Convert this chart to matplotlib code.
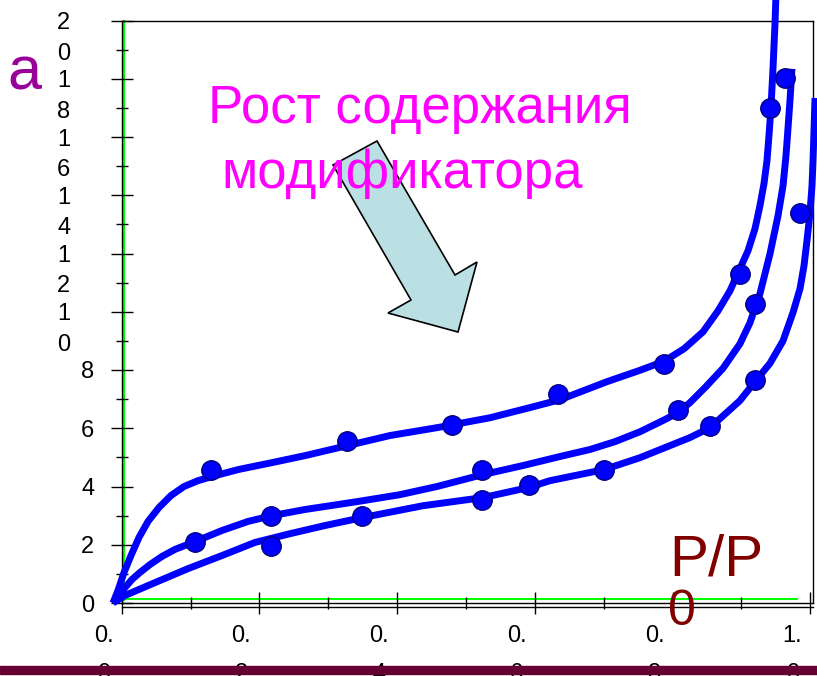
import matplotlib.pyplot as plt
import matplotlib.patches as mpatches
import numpy as np

plt.rcParams['font.family'] = ['Liberation Sans', 'DejaVu Sans']

# measured points (P/P0, adsorption) for the three samples
top_x = [0.130, 0.327, 0.480, 0.634, 0.788, 0.898, 0.942]
top_y = [4.55, 5.57, 6.12, 7.18, 8.21, 11.29, 16.99]
mid_x = [0.1065, 0.217, 0.524, 0.808, 0.920, 0.963]
mid_y = [2.11, 3.00, 4.58, 6.64, 10.26, 18.04]
low_x = [0.217, 0.349, 0.524, 0.591, 0.700, 0.854, 0.920, 0.985]
low_y = [1.97, 3.00, 3.54, 4.05, 4.55, 6.09, 7.66, 13.39]

# isotherm curves
top_curve_x = [-0.0126, -0.0054, 0.0034, 0.0135, 0.0251, 0.0382, 0.0542, 0.0716,
               0.0905, 0.1108, 0.1355, 0.1689, 0.2183, 0.2662, 0.3272, 0.3897,
               0.4580, 0.5349, 0.5930, 0.6366, 0.7049, 0.7528, 0.7877, 0.8168,
               0.8443, 0.8661, 0.8835, 0.8980, 0.9096, 0.9198, 0.9270, 0.9328,
               0.9372, 0.9401, 0.9430, 0.9460, 0.9489, 0.9503]
top_curve_y = [0.0, 0.43, 1.05, 1.63, 2.25, 2.80, 3.28, 3.69,
               4.00, 4.20, 4.37, 4.58, 4.82, 5.06, 5.40, 5.75,
               6.02, 6.36, 6.71, 6.98, 7.60, 7.99, 8.30, 8.73,
               9.31, 10.03, 10.72, 11.48, 12.09, 12.85, 13.64, 14.39,
               15.18, 16.04, 17.00, 18.37, 19.91, 20.88]
mid_curve_x = [-0.0126, -0.0054, 0.0048, 0.0150, 0.0266, 0.0411, 0.0586, 0.0774,
               0.1065, 0.1457, 0.1834, 0.2183, 0.2662, 0.3417, 0.4042, 0.4580,
               0.5248, 0.5829, 0.6366, 0.6801, 0.7165, 0.7528, 0.7891, 0.8080,
               0.8254, 0.8486, 0.8734, 0.8980, 0.9125, 0.9270, 0.9416, 0.9532,
               0.9605, 0.9648, 0.9677, 0.9706, 0.9735]
mid_curve_y = [0.0, 0.22, 0.53, 0.81, 1.05, 1.32, 1.60, 1.84,
               2.11, 2.49, 2.80, 3.00, 3.21, 3.48, 3.72, 4.00,
               4.41, 4.72, 5.03, 5.27, 5.54, 5.88, 6.30, 6.54,
               6.88, 7.43, 8.06, 8.90, 9.62, 10.62, 11.99, 13.29,
               14.32, 15.35, 16.28, 17.24, 18.34]
low_curve_x = [-0.0126, 0.0048, 0.0484, 0.0963, 0.1457, 0.1936, 0.2445, 0.2953,
               0.3490, 0.4376, 0.5248, 0.5901, 0.6220, 0.7005, 0.7528, 0.8254,
               0.8545, 0.8980, 0.9198, 0.9416, 0.9605, 0.9750, 0.9852, 0.9910,
               0.9953, 0.9997, 1.0026, 1.0041, 1.0055, 1.0070]
low_curve_y = [0.0, 0.26, 0.70, 1.18, 1.63, 2.08, 2.38, 2.66,
               2.93, 3.34, 3.62, 3.96, 4.20, 4.58, 4.99, 5.68,
               6.02, 6.95, 7.60, 8.23, 9.00, 9.97, 10.79, 11.58,
               12.44, 13.40, 14.32, 15.18, 16.21, 17.34]

x_ticks = [0.0, 0.2, 0.4, 0.6, 0.8, 1.0]
x_tick_labels = ['0.\n0', '0.\n2', '0.\n4', '0.\n6', '0.\n8', '1.\n0']
y_ticks = [0, 2, 4, 6, 8, 10, 12, 14, 16, 18, 20]
y_tick_labels = ['0', '2', '4', '6', '8', '1\n0', '1\n2', '1\n4', '1\n6', '1\n8', '2\n0']

W, H = 817, 676
fig = plt.figure(figsize=(W / 100, H / 100), dpi=100)
ax = fig.add_axes([121.7 / W, 1 - 603 / H, 691.6 / W, 582.5 / H])
ax.set_xlim(0, 1.0045)
ax.set_ylim(0, 20)

# curves and points
blue = '#0000FF'
for cx, cy in [(top_curve_x, top_curve_y), (mid_curve_x, mid_curve_y),
               (low_curve_x, low_curve_y)]:
    ax.plot(cx, cy, color=blue, lw=5, clip_on=False, solid_capstyle='butt',
            solid_joinstyle='round', zorder=3)
for px, py in [(top_x, top_y), (mid_x, mid_y), (low_x, low_y)]:
    ax.plot(px, py, 'o', ms=14, mfc=blue, mec='#000080', mew=1.0,
            clip_on=False, zorder=4)

# spines and ticks
for s in ax.spines.values():
    s.set_color('black')
    s.set_linewidth(1.0)
ax.set_xticks(x_ticks)
ax.set_xticks(np.arange(0.1, 1.0, 0.2), minor=True)
ax.set_yticks(y_ticks)
ax.set_yticks(np.arange(1, 20, 2), minor=True)
ax.set_xticklabels([])
ax.set_yticklabels([])
ax.tick_params(which='major', direction='inout', length=16, width=1.0)
ax.tick_params(which='minor', direction='inout', length=8, width=1.0)

# second bottom line and green guide lines
ax.plot([0, 1], [-0.0065, -0.0065], transform=ax.transAxes, color='black',
        lw=1.0, clip_on=False)
ax.plot([0.0033, 0.0033], [0.005, 1.0], transform=ax.transAxes, color='#00FF00',
        lw=1.5, clip_on=False, zorder=1)
ax.plot([-0.0025, 0.976], [0.0077, 0.0077], transform=ax.transAxes, color='#00FF00',
        lw=1.5, clip_on=False, zorder=1)

# wrapped tick labels
for v, lab in zip(y_ticks, y_tick_labels):
    if '\n' in lab:
        dx, dy = -58, -11
    else:
        dx, dy = -34, 0
    ax.annotate(lab, xy=(0, v), xycoords=('axes fraction', 'data'),
                xytext=(dx, dy), textcoords='offset pixels', ha='center',
                va='center_baseline', fontsize=17, linespacing=1.5)
for v, lab in zip(x_ticks, x_tick_labels):
    ax.annotate(lab, xy=(v, 0), xycoords=('data', 'axes fraction'),
                xytext=(-18, -42), textcoords='offset pixels', ha='center',
                va='center_baseline', multialignment='center', fontsize=17,
                linespacing=1.92, annotation_clip=False)

# arrow "growth of modifier content"
arrow_px = [(333, 165), (377, 141), (455, 275), (477, 262), (458, 332),
            (388, 313), (411, 300)]
arrow = mpatches.Polygon([(x / W, 1 - y / H) for x, y in arrow_px], closed=True,
                         transform=fig.transFigure, facecolor='#BBE0E3',
                         edgecolor='black', lw=1.2, zorder=2)
fig.add_artist(arrow)

fig.text(208 / W, 1 - 123 / H, 'Рост содержания', color='#FF00FF', fontsize=38,
         va='baseline', ha='left', zorder=5)
fig.text(221 / W, 1 - 188 / H, 'модификатора', color='#FF00FF', fontsize=38,
         va='baseline', ha='left', zorder=5)
fig.text(7 / W, 1 - 90 / H, 'a', color='#990099', fontsize=44, va='baseline', zorder=5)
fig.text(669 / W, 1 - 575 / H, 'P/P', color='#800000', fontsize=42, va='baseline', zorder=5)
fig.text(668 / W, 1 - 625 / H, '0', color='#800000', fontsize=36, va='baseline', zorder=5)

# maroon bar along the bottom
fig.add_artist(mpatches.Rectangle((0, 1 - 673.5 / H), 1, 7.5 / H,
                                  transform=fig.transFigure, color='#660033',
                                  zorder=10))

fig.savefig('out.png', dpi=100)
